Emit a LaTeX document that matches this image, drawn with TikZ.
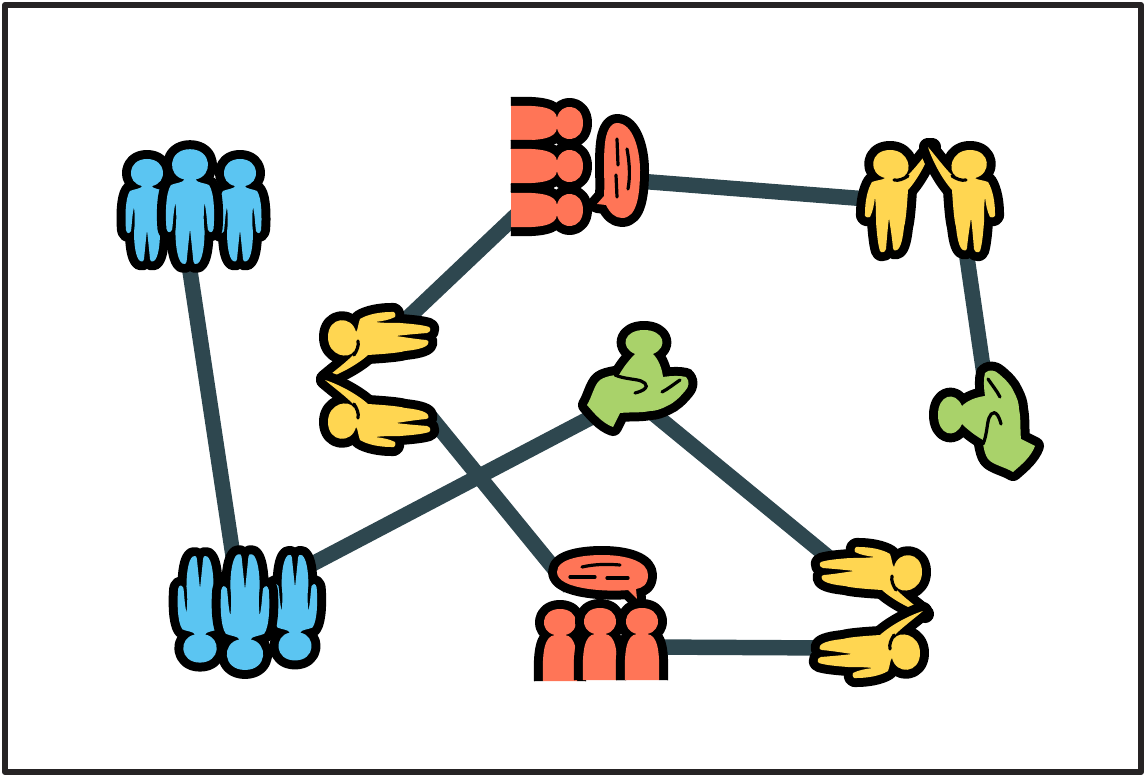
\documentclass[tikz,border=0pt]{standalone}
\definecolor{bluefig}{HTML}{5BC5F2}
\definecolor{redfig}{HTML}{FF7557}
\definecolor{yellowfig}{HTML}{FFD651}
\definecolor{greenfig}{HTML}{A9D26A}
\definecolor{linkcol}{HTML}{2E474F}
\definecolor{framecol}{HTML}{262324}
\tikzset{
  hub/.style={inner sep=0pt,minimum size=0pt},
  link/.style={draw=linkcol,line width=11.6pt},
  outlined/.style={preaction={draw=black,line width=13.5pt,line join=round,line cap=round},fill=#1},
  opened/.style={preaction={draw=black,line width=13.5pt,line join=round,line cap=butt},fill=#1},
  crease/.style={draw=black,line width=2.4pt,line cap=round},
  man/.pic={
    \path[outlined=#1] (-5,12) .. controls (-21,9) and (-20,-15) .. (0,-15)
      .. controls (20,-15) and (21,9) .. (5,12) .. controls (6,15) and (13,15) .. (17,17)
      .. controls (22,24) and (22,45) .. (21,56) .. controls (20,60) and (18,60) .. (16,57)
      .. controls (15,50) and (15,42) .. (13,33) .. controls (12,42) and (12,50) .. (13,58)
      .. controls (13,72) and (11,84) .. (7,87) .. controls (4,88) and (3,87) .. (3,85)
      .. controls (2,75) and (1,65) .. (0,56) .. controls (-1,65) and (-2,75) .. (-3,85)
      .. controls (-3,87) and (-4,88) .. (-7,87) .. controls (-11,84) and (-13,72) .. (-13,58)
      .. controls (-12,50) and (-12,42) .. (-13,33) .. controls (-15,42) and (-15,50) .. (-16,57)
      .. controls (-18,60) and (-20,60) .. (-21,56) .. controls (-22,45) and (-22,24) .. (-17,17)
      .. controls (-13,15) and (-6,15) .. (-5,12) -- cycle;
  },
  fiver/.pic={
    \path[outlined=#1] (-5,13) .. controls (-22,9) and (-21,-15) .. (0,-15)
      .. controls (19,-15) and (23,6) .. (14,11) -- (17,11)
      .. controls (24,5) and (35,-10) .. (42,-18) .. controls (38,-5) and (28,14) .. (18,25)
      .. controls (17,40) and (16,55) .. (14,62) .. controls (13,72) and (11,83) .. (7,85)
      .. controls (4,86) and (3,85) .. (3,83) .. controls (2,72) and (0,60) .. (-1,53)
      .. controls (-2,60) and (-3,72) .. (-4,84) .. controls (-5,88) and (-9,88) .. (-10,86)
      .. controls (-12,80) and (-13,70) .. (-14,57) .. controls (-14,48) and (-14,40) .. (-15,32)
      .. controls (-16,40) and (-17,46) .. (-20,52) .. controls (-23,53) and (-26,52) .. (-25,48)
      .. controls (-25,38) and (-23,25) .. (-18,17) .. controls (-13,15) and (-7,15) .. (-5,13) -- cycle;
    \draw[crease] (4,15) .. controls (9,16) and (13,14) .. (18,11);
  },
  bust/.pic={
    \path[opened=#1] (-17,58) .. controls (-18,30) and (-16,13) .. (-5,12)
      .. controls (-21,9) and (-20,-14) .. (0,-14) .. controls (20,-14) and (21,9) .. (5,12)
      .. controls (16,13) and (18,30) .. (17,58);
  },
  palm/.pic={
    \path[outlined=#1] (-9,9) .. controls (-25,2) and (-20,-15) .. (0,-15)
      .. controls (20,-15) and (25,2) .. (9,9) .. controls (15,15) and (18,24) .. (19,32)
      -- (19,42) -- (-26,42) -- (-26,32) .. controls (-22,24) and (-15,15) .. (-9,9) -- cycle
      (-57,60) .. controls (-52,52) and (-50,40) .. (-44,35) .. controls (-40,32) and (-34,31) .. (-29,30)
      .. controls (-20,34) and (-5,36) .. (6,35) .. controls (12,33) and (30,29) .. (42,32)
      .. controls (46,36) and (45,42) .. (41,46) .. controls (35,53) and (30,58) .. (23,61)
      .. controls (17,64) and (12,66) .. (6,66) .. controls (-3,68) and (-15,67) .. (-24,68)
      -- (-31,82) .. controls (-42,78) and (-50,68) .. (-57,60) -- cycle;
    \draw[crease] (-29,30) .. controls (-20,34) and (-8,34) .. (-3,36)
      .. controls (3,38) and (7,44) .. (-9,48);
    \draw[crease] (18,47) .. controls (24,44) and (30,39) .. (36,35);
  }
}
\begin{document}
\begin{tikzpicture}[x=0.75pt,y=-0.75pt]
  \useasboundingbox (0,0) rectangle (1146,777);
  \node[hub](crowdtop)    at (180,205) {};
  \node[hub](crowdbottom) at (240,602) {};
  \node[hub](palmtop)     at (632,396) {};
  \node[hub](palmright)   at (987,395) {};
  \node[hub](reachup)     at (395,330) {};
  \node[hub](reachdown)   at (428,414) {};
  \node[hub](pointup)     at (850,575) {};
  \node[hub](pointdown)   at (830,648) {};
  \node[hub](fiveleft)    at (880,200) {};
  \node[hub](fiveright)   at (963,230) {};
  \node[hub](speakers)    at (530,202) {};
  \node[hub](speech)      at (625,180) {};
  \node[hub](talkers)     at (650,647) {};
  \node[hub](talk)        at (570,588) {};

  \draw[draw=framecol,line width=4.5pt,line join=round] (5,5) rectangle (1141,772);

  \draw[link] (crowdtop)--(crowdbottom);
  \draw[link] (crowdbottom)--(palmtop);
  \draw[link] (palmtop)--(pointup);
  \draw[link] (reachup)--(speakers);
  \draw[link] (reachdown)--(talk);
  \draw[link] (talkers)--(pointdown);
  \draw[link] (speech)--(fiveleft);
  \draw[link] (fiveright)--(palmright);

  \pic at (147,174) {man=bluefig};
  \pic at (240,174) {man=bluefig};
  \pic[scale=1.12] at (190,166) {man=bluefig};

  \pic[rotate=180,scale=1.04] at (200,647) {man=bluefig};
  \pic[rotate=180,scale=1.03] at (295,645) {man=bluefig};
  \pic[rotate=180,scale=1.13] at (245,653) {man=bluefig};

  \pic at (890,165) {fiver=yellowfig};
  \pic[xscale=-1] at (970,165) {fiver=yellowfig};

  \pic[rotate=90,xscale=-1] at (343,337) {fiver=yellowfig};
  \pic[rotate=90] at (343,422) {fiver=yellowfig};

  \pic[rotate=-90] at (907,572) {fiver=yellowfig};
  \pic[rotate=-90,xscale=-1] at (905,653) {fiver=yellowfig};

  \pic[rotate=-90] at (569,123) {bust=redfig};
  \pic[rotate=-90] at (569,166) {bust=redfig};
  \pic[rotate=-90] at (569,210) {bust=redfig};

  \pic at (560,623) {bust=redfig};
  \pic at (600,622) {bust=redfig};
  \pic at (642,622) {bust=redfig};

  \pic at (644,345) {palm=greenfig};
  \pic[rotate=90] at (953,415) {palm=greenfig};

  % speech bubbles
  \path[outlined=redfig] (617,123) .. controls (633,123) and (640,150) .. (640,170)
    .. controls (640,195) and (637,218) .. (622,218) .. controls (615,218) and (610,213) .. (606,205)
    -- (597,204) -- (604,196) .. controls (605,180) and (603,160) .. (605,143)
    .. controls (606,133) and (610,123) .. (617,123) -- cycle;
  \draw[crease] (617,139)--(618,165);
  \draw[crease] (616,175)--(617,197);
  \draw[crease] (627,149) .. controls (630,165) and (630,178) .. (628,189);

  \path[outlined=redfig] (557,572) .. controls (557,558) and (585,555) .. (602,555)
    .. controls (628,555) and (648,562) .. (648,575) .. controls (648,585) and (642,588) .. (636,589)
    -- (637,599) -- (628,590) .. controls (610,592) and (557,590) .. (557,572) -- cycle;
  \draw[crease] (582,567) .. controls (595,564) and (608,564) .. (620,565);
  \draw[crease] (570,577)--(595,577);
  \draw[crease] (607,578)--(628,578);
\end{tikzpicture}
\end{document}
